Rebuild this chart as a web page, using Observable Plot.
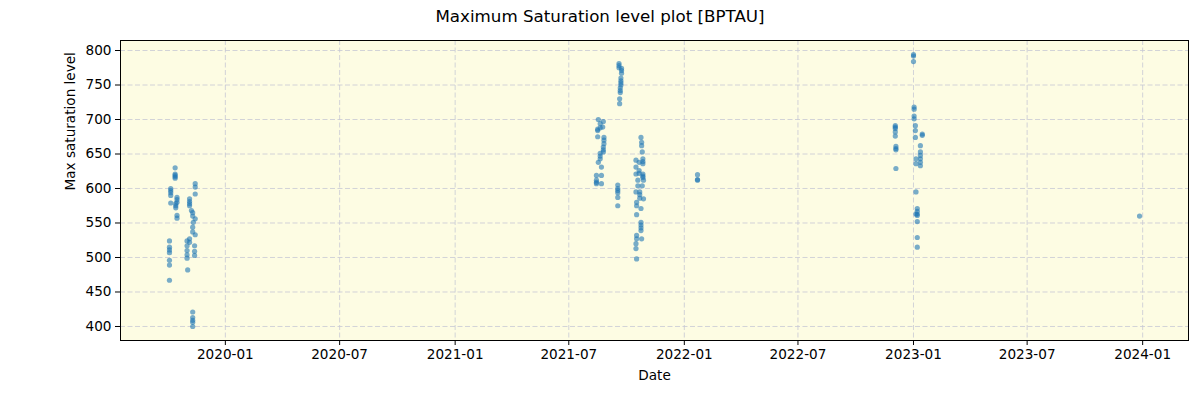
<!DOCTYPE html>
<html>
<head>
<meta charset="utf-8">
<script src="https://cdn.jsdelivr.net/npm/d3@7"></script>
<script src="https://cdn.jsdelivr.net/npm/@observablehq/plot@0.6"></script>
<style>
  body { margin: 0; background: #fff; }
  #title { width: 1200px; height: 33px; line-height: 33px; text-align: center;
           font-family: "DejaVu Sans", sans-serif; font-size: 16.7px; color: #000; }
</style>
</head>
<body>
<div id="title">Maximum Saturation level plot [BPTAU]</div>
<div id="chart"></div>
<script>
// Observation dates and the max saturation levels measured on each date
const obsDates = [
  "2019-10-13", "2019-10-06", "2019-10-16", "2019-10-06", "2019-10-14", "2019-10-16", "2019-10-04",
  "2019-11-14", "2019-11-05", "2019-11-08", "2019-11-10", "2019-11-14", "2019-11-11", "2019-11-10",
  "2019-11-14", "2019-11-05", "2019-11-01", "2019-11-13", "2019-11-02", "2019-11-10",
  "2021-08-17", "2021-08-25", "2021-08-20", "2021-08-16", "2021-08-24", "2021-08-16", "2021-08-26",
  "2021-08-25", "2021-08-20", "2021-08-17", "2021-08-22", "2021-08-14", "2021-08-22", "2021-08-14", "2021-08-22",
  "2021-09-19", "2021-09-23", "2021-09-22", "2021-09-21", "2021-09-20",
  "2021-09-17",
  "2021-10-24", "2021-10-25", "2021-10-26", "2021-10-27", "2021-10-16", "2021-10-21", "2021-10-16",
  "2021-10-21", "2021-10-27", "2021-10-16", "2021-10-19", "2021-10-28", "2021-10-19", "2021-10-26",
  "2021-10-16", "2021-10-22", "2021-10-28", "2021-10-17", "2021-10-24", "2021-10-17", "2021-10-24",
  "2021-10-17", "2021-10-25", "2021-10-16", "2021-10-17",
  "2022-01-22",
  "2023-01-01", "2022-12-03", "2022-12-04", "2023-01-02", "2023-01-04", "2023-01-15", "2023-01-12",
  "2023-01-05", "2023-01-12", "2023-01-05", "2023-01-07", "2023-01-05", "2023-01-07",
  "2023-12-27"
];
const obsLevels = [
  [630, 621, 619, 617, 615], [600, 597, 594, 590], [587, 584, 580], [579], [578, 575, 572], [561, 557],
  [524, 515, 511, 507, 496, 489, 467],
  [607, 602, 592], [585, 581, 578, 575], [568], [565, 560], [556], [551], [544, 537],
  [533], [527, 522], [524, 517, 510, 504, 499], [517, 509, 503], [482], [421, 413, 409, 406, 400],
  [700], [697], [694, 688], [684, 686], [689], [675], [674, 670, 665],
  [660, 656, 653], [651, 647, 643], [638], [631], [619], [619], [612, 609, 607], [607],
  [781, 778, 775], [774, 771, 767], [760, 756, 753, 750], [746, 742, 739], [730, 723],
  [605, 600, 597, 594, 587, 575],
  [674], [667, 662], [653], [643, 639, 636], [641], [638], [631],
  [626, 622], [621, 618, 616], [621], [612], [612], [604], [604],
  [595], [595, 591, 586], [585], [580, 575], [571], [562], [551, 547, 543, 539],
  [532, 527], [527], [520, 513], [498],
  [620, 613, 612],
  [794, 792, 784], [691, 689, 687, 682, 676], [661, 658, 656, 629], [718, 715, 705, 701], [691, 684, 674],
  [677, 679], [662, 653, 648, 643, 638], [643, 636], [633], [595], [571, 567, 563, 561], [563],
  [552, 529, 515],
  [560]
];
const xTicks = ["2020-01-01", "2020-07-01", "2021-01-01", "2021-07-01", "2022-01-01",
                "2022-07-01", "2023-01-01", "2023-07-01", "2024-01-01"];
const yTicks = [400, 450, 500, 550, 600, 650, 700, 750, 800];

const parse = d3.utcParse("%Y-%m-%d");
const points = obsDates.flatMap((d, i) => obsLevels[i].map(v => ({date: parse(d), level: v})));
const xTickDates = xTicks.map(parse);

const gridStyle = {stroke: "#c6c8d4", strokeOpacity: 1, strokeWidth: 0.8, strokeDasharray: "5,2.5"};

const chart = Plot.plot({
  width: 1200,
  height: 367,
  marginTop: 7,
  marginBottom: 60,
  marginLeft: 120,
  marginRight: 12,
  style: {fontFamily: "DejaVu Sans, sans-serif", fontSize: "13.6px", color: "#000", background: "#fff"},
  x: {type: "utc", domain: [parse("2019-07-18"), parse("2024-03-14")]},
  y: {domain: [379.7, 814.5]},
  marks: [
    Plot.frame({fill: "#fdfce3", stroke: "none"}),
    Plot.gridX(xTickDates, gridStyle),
    Plot.gridY(yTicks, gridStyle),
    Plot.dot(points, {x: "date", y: "level", r: 2.6, fill: "#1f77b4", fillOpacity: 0.6, stroke: "none"}),
    Plot.axisX(xTickDates, {tickFormat: d3.utcFormat("%Y-%m"), tickSize: 5, tickPadding: 4, label: null}),
    Plot.axisY(yTicks, {tickSize: 5, tickPadding: 4, label: null}),
    Plot.frame({stroke: "#000", strokeWidth: 1}),
    Plot.text(["Date"], {frameAnchor: "bottom", lineAnchor: "middle", dy: 35, fontSize: 13.6}),
    Plot.text(["Max saturation level"], {frameAnchor: "left", dx: -50, rotate: -90, fontSize: 13.6})
  ]
});
document.getElementById("chart").appendChild(chart);
</script>
</body>
</html>
